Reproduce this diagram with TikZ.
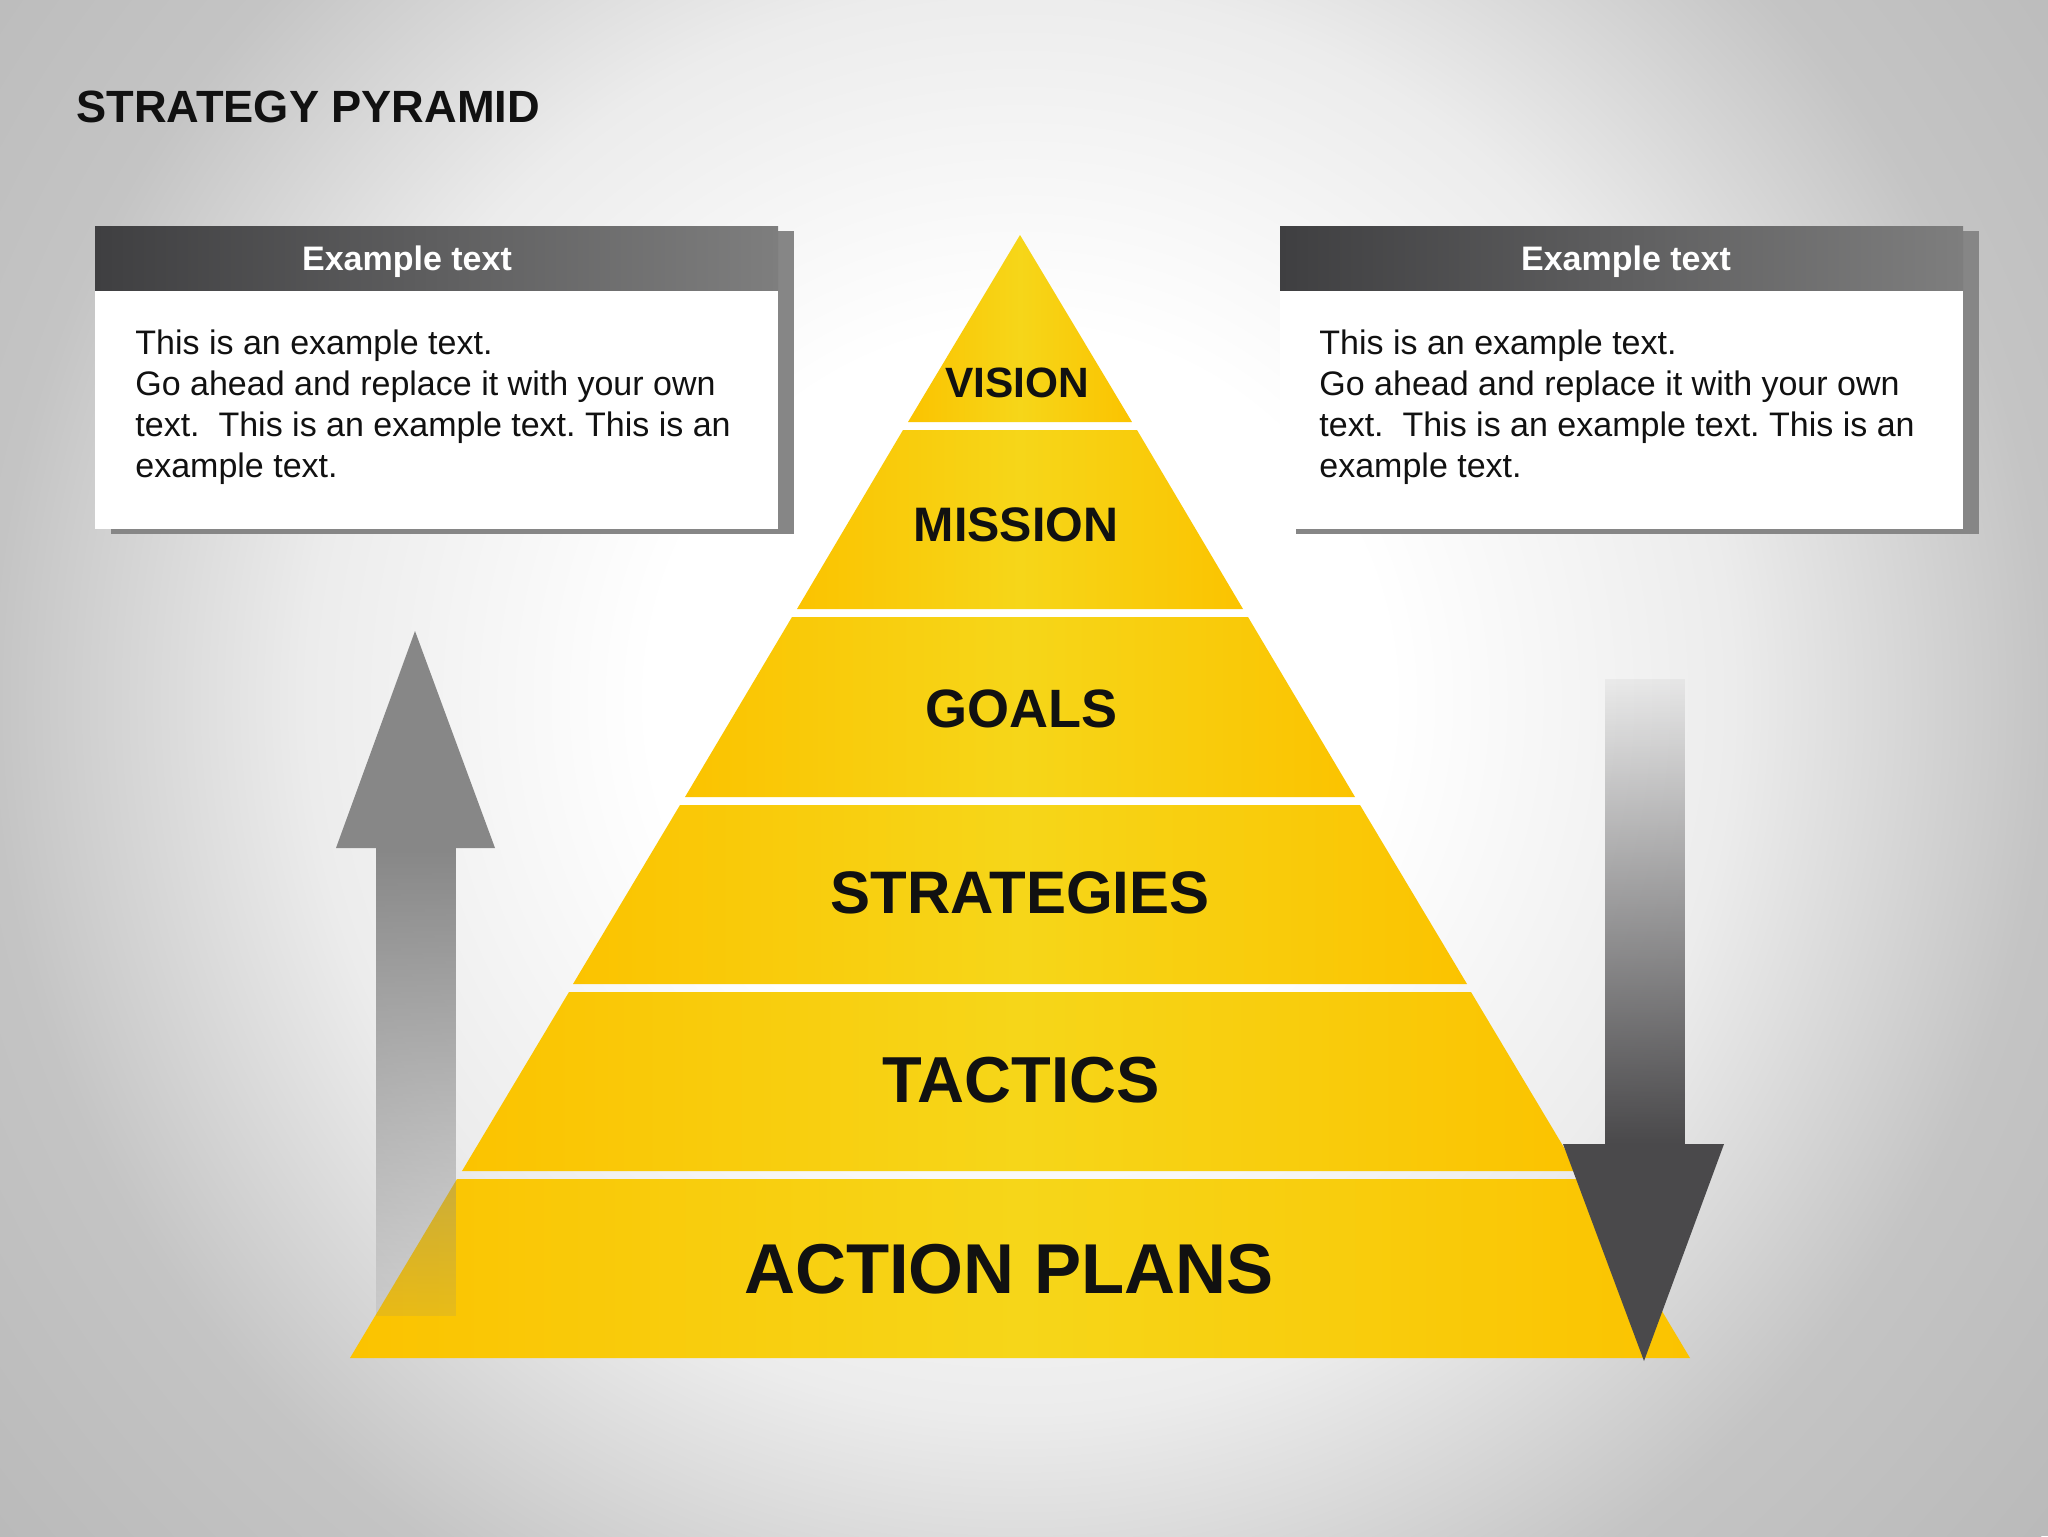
\documentclass[tikz,border=0pt]{standalone}
\usepackage{fontspec}
\setmainfont{Liberation Sans}
\usetikzlibrary{fadings}
\frenchspacing

\definecolor{pyrdeep}{HTML}{FBC300}
\definecolor{pyrlight}{HTML}{F6D619}
\definecolor{hdrdark}{HTML}{3F3F41}
\definecolor{hdrlight}{HTML}{7E7E7E}
\definecolor{boxshadow}{HTML}{868686}
\definecolor{upgray}{HTML}{878787}
\definecolor{downgray}{HTML}{4A494B}
\definecolor{labelblack}{HTML}{111111}
\definecolor{bgmid}{HTML}{ECECEC}
\definecolor{bgedge}{HTML}{C4C4C4}
\definecolor{bgcorner}{HTML}{BABABA}

\pgfdeclareradialshading{backdrop}{\pgfpoint{0bp}{0bp}}{color(0bp)=(white); color(7bp)=(white); color(13.5bp)=(bgmid); color(19.5bp)=(bgedge); color(25bp)=(bgcorner); color(50bp)=(bgcorner)}
\tikzfading[name=fadeup, top color=transparent!0, bottom color=transparent!85]
\tikzfading[name=fadedown, top color=transparent!95, bottom color=transparent!0]

\tikzset{
  tier/.style={left color=pyrdeep, right color=pyrdeep, middle color=pyrlight},
  tierlabel/.style={font=\fontsize{#1}{#1}\selectfont\bfseries, text=labelblack, inner sep=0pt},
  hdrbar/.style={left color=hdrdark, right color=hdrlight},
  shadowbox/.style={fill=boxshadow},
  hdrtext/.style={font=\fontsize{17}{17}\selectfont\bfseries, text=white, inner sep=0pt, anchor=base},
  bodytext/.style={font=\fontsize{17}{20.5}\selectfont, text=labelblack, align=left, inner sep=0pt, anchor=north west}
}

\begin{document}
\begin{tikzpicture}[x=0.5pt,y=-0.5pt]
  \useasboundingbox (0,0) rectangle (2048,1536);
  \begin{scope}
    \clip (0,0) rectangle (2048,1536);
    \fill[bgcorner] (0,0) rectangle (2048,1536); % backdrop
    \shade[shading=backdrop] (1020,700) circle (1320); % light spot
  \end{scope}
  \node[anchor=west, font=\fontsize{22.6}{22.6}\selectfont\bfseries, text=labelblack, inner sep=0pt] (title) at (76,107) {STRATEGY PYRAMID};
  % left box
  \fill[shadowbox] (111,231) rectangle (794,534);
  \fill[white] (95,226) rectangle (778,529);
  \shade[hdrbar] (95,226) rectangle (778,290);
  \node[hdrtext] (lhead) at (407,270) {Example text};
  \node[bodytext] (lbody) at (135,329) {This is an example text.\\Go ahead and replace it with your own\\text.\ \ This is an example text. This is an\\example text.};
  % right box
  \fill[shadowbox] (1296,231) rectangle (1979,534);
  \fill[white] (1280,226) rectangle (1963,529);
  \shade[hdrbar] (1280,226) rectangle (1963,290);
  \node[hdrtext] (rhead) at (1626,270) {Example text};
  \node[bodytext] (rbody) at (1319,329) {This is an example text.\\Go ahead and replace it with your own\\text.\ \ This is an example text. This is an\\example text.};
  % pyramid tiers
  \path[tier] (1020,235) -- (1132,422) -- (908,422) -- cycle; % vision
  \path[tier] (903,430) -- (1137,430) -- (1243,609) -- (797,609) -- cycle; % mission
  \path[tier] (792,617) -- (1248,617) -- (1355,797) -- (685,797) -- cycle; % goals
  \path[tier] (680,805) -- (1360,805) -- (1467,984) -- (573,984) -- cycle; % strategies
  \path[tier] (569,992) -- (1471,992) -- (1578,1171) -- (462,1171) -- cycle; % tactics
  \path[tier] (457,1179) -- (1583,1179) -- (1690,1358) -- (350,1358) -- cycle; % action plans
  \node[tierlabel=21.2] (vision) at (1017,383) {VISION};
  \node[tierlabel=24.2] (mission) at (1016,525) {MISSION};
  \node[tierlabel=27] (goals) at (1021,709) {GOALS};
  \node[tierlabel=30] (strategies) at (1020,893) {STRATEGIES};
  \node[tierlabel=32.5] (tactics) at (1021,1080) {TACTICS};
  \node[tierlabel=35.3] (actionplans) at (1009,1269) {ACTION PLANS};
  % arrows
  \fill[upgray, path fading=fadeup] (376,848) rectangle (456,1316); % rising shaft
  \fill[upgray] (415,631) -- (495,848) -- (336,848) -- cycle; % rising head
  \fill[downgray, path fading=fadedown] (1605,679) rectangle (1685,1144); % falling shaft
  \fill[downgray] (1563,1144) -- (1724,1144) -- (1644,1361) -- cycle; % falling head
\end{tikzpicture}
\end{document}
